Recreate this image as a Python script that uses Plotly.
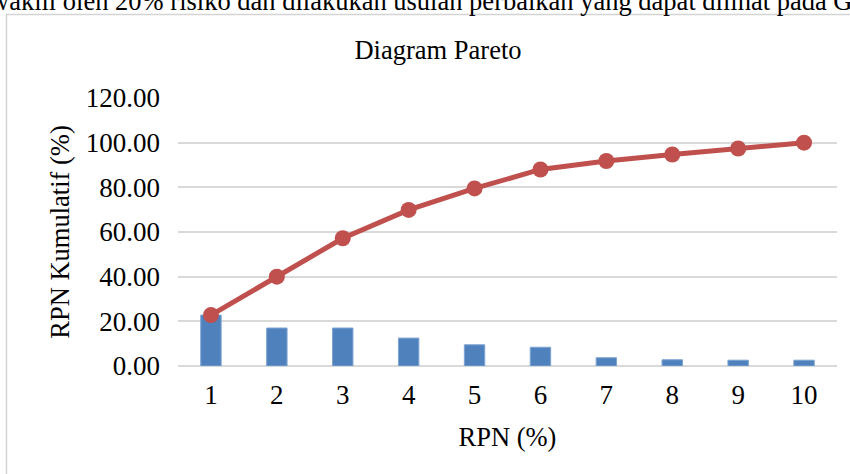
import plotly.graph_objects as go

categories = ["1", "2", "3", "4", "5", "6", "7", "8", "9", "10"]
rpn_percent = [22.8, 17.0, 17.0, 12.5, 9.5, 8.4, 3.7, 2.8, 2.6, 2.6]
rpn_cumulative = [22.8, 40.0, 57.2, 69.9, 79.5, 88.0, 91.8, 94.7, 97.4, 100.0]
y_ticks = [0, 20, 40, 60, 80, 100, 120]

W, H = 850, 474
L, R, T, B = 178, 13, 98, 108
FONT = "Liberation Serif"
FS_TICK = 27
FS_TEXT = 26.5

fig = go.Figure()
fig.add_trace(go.Bar(
    x=categories, y=rpn_percent, width=0.31,
    marker=dict(color="#4f81bd", line=dict(color="#7fa4d3", width=1)),
    showlegend=False, hoverinfo="y"))
fig.add_trace(go.Scatter(
    x=categories, y=rpn_cumulative, mode="lines+markers",
    line=dict(color="#c0504d", width=5),
    marker=dict(color="#c0504d", size=16),
    showlegend=False, cliponaxis=False))

pw = W - L - R
ph = H - T - B

def px_x(x):
    return (x - L) / pw

def px_y(y):
    return (H - B - y) / ph

fig.update_layout(
    width=W, height=H,
    margin=dict(l=L, r=R, t=T, b=B, autoexpand=False),
    paper_bgcolor="white", plot_bgcolor="white",
    font=dict(family=FONT, color="#000000", size=FS_TEXT),
    title=dict(text="Diagram Pareto", x=438 / W, xanchor="center",
               y=1 - 50 / H, yanchor="middle", xref="container", yref="container",
               font=dict(family=FONT, size=FS_TEXT, color="#000000")),
    bargap=0.69,
    shapes=[dict(type="rect", xref="paper", yref="paper",
                 x0=px_x(6.5), x1=px_x(900), y0=px_y(520), y1=px_y(14.5),
                 line=dict(color="#d4d4d4", width=1.5), fillcolor="rgba(0,0,0,0)",
                 layer="below")],
    annotations=[dict(text="wakili oleh 20% risiko dan dilakukan usulan perbaikan yang dapat dilihat pada Gambar",
                      xref="paper", yref="paper", x=px_x(-12), y=px_y(1),
                      xanchor="left", yanchor="middle", showarrow=False,
                      font=dict(family=FONT, size=FS_TEXT, color="#000000"))],
)
fig.update_xaxes(
    type="category", range=[-0.5, 9.5], showgrid=False, showline=False, ticks="",
    automargin=False,
    tickfont=dict(family=FONT, size=FS_TICK), ticklabelstandoff=10,
    title=dict(text="RPN (%)", font=dict(family=FONT, size=FS_TEXT), standoff=18))
fig.update_yaxes(
    range=[0, 120], tickvals=y_ticks, tickformat=".2f", automargin=False,
    showgrid=True, gridcolor="#d9d9d9", gridwidth=1.5,
    zeroline=True, zerolinecolor="#d9d9d9", zerolinewidth=1.5,
    showline=False, ticks="",
    tickfont=dict(family=FONT, size=FS_TICK), ticklabelstandoff=17,
    title=dict(text="RPN Kumulatif (%)", font=dict(family=FONT, size=FS_TEXT), standoff=8))

fig.write_html(
    "out.html",
    config={"displayModeBar": False},
    post_script="document.body.style.margin='0';document.body.style.overflow='hidden';",
)
